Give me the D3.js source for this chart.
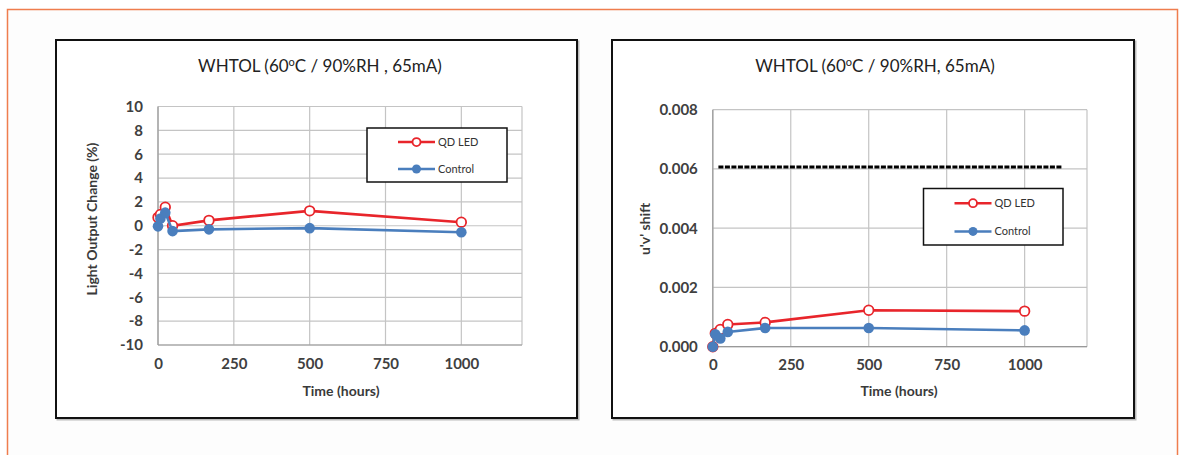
<!DOCTYPE html>
<html><head><meta charset="utf-8">
<script src="https://cdn.jsdelivr.net/npm/d3@7"></script>
<style>
html,body{margin:0;padding:0;background:#fff;}
svg{display:block;}
text{font-family:Lato,"Open Sans",sans-serif;}
</style></head>
<body>
<svg id="c" width="1184" height="455"></svg>
<script>
// ---- data ----
const hours = [0, 8, 24, 48, 168, 500, 1000];
const lightQD = [0.7, 0.95, 1.55, 0.0, 0.45, 1.25, 0.3];
const lightControl = [-0.05, 0.6, 1.1, -0.45, -0.3, -0.2, -0.55];
const shiftQD = [0, 0.00045, 0.00058, 0.00075, 0.00082, 0.00123, 0.0012];
const shiftControl = [0, 0.00042, 0.00028, 0.0005, 0.00063, 0.00063, 0.00055];
const xTicks = [0, 250, 500, 750, 1000];
const lightTicks = [-10, -8, -6, -4, -2, 0, 2, 4, 6, 8, 10];
const shiftTicks = [0, 0.002, 0.004, 0.006, 0.008];
const limitValue = [0.00607];
const limitHours = [18, 1120];
const seriesNames = ["QD LED", "Control"];

const RED = "#e8252b", BLUE = "#4a7ebd", GRID = "#c4c4c4";
const svg = d3.select("#c");

// outer frame
svg.append("rect").attr("x",7.5).attr("y",9.5).attr("width",1170).attr("height",470)
  .attr("fill","#fdfdfd").attr("stroke","#ef7d4e").attr("stroke-width",1.5);

function panel(o){
  const g = svg.append("g");
  g.append("rect").attr("x",o.box[0]+1.5).attr("y",o.box[1]+1.5).attr("width",o.box[2]).attr("height",o.box[3])
    .attr("fill","none").attr("stroke","#bbb").attr("stroke-width",2);
  g.append("rect").attr("x",o.box[0]).attr("y",o.box[1]).attr("width",o.box[2]).attr("height",o.box[3])
    .attr("fill","#fff").attr("stroke","#111").attr("stroke-width",2);

  const x = d3.scaleLinear().domain([0,1200]).range([o.left,o.right]);
  const y = d3.scaleLinear().domain(o.ydom).range([o.bottom,o.top]);

  g.append("g").selectAll("line").data(o.yticks).join("line")
    .attr("x1",o.left).attr("x2",o.right).attr("y1",d=>y(d)).attr("y2",d=>y(d))
    .attr("stroke",GRID).attr("stroke-width",1.2);
  g.append("g").selectAll("line").data(xTicks.concat([1200])).join("line")
    .attr("x1",d=>x(d)).attr("x2",d=>x(d)).attr("y1",o.top).attr("y2",o.bottom)
    .attr("stroke",GRID).attr("stroke-width",1.2);
  g.append("line").attr("x1",o.left).attr("x2",o.left).attr("y1",o.top).attr("y2",o.bottom).attr("stroke","#999").attr("stroke-width",1.2);
  g.append("line").attr("x1",o.left).attr("x2",o.right).attr("y1",o.bottom).attr("y2",o.bottom).attr("stroke","#999").attr("stroke-width",1.2);

  const ya = g.append("g").attr("transform",`translate(${o.left},0)`)
    .call(d3.axisLeft(y).tickValues(o.yticks).tickFormat(o.yfmt).tickSize(0).tickPadding(o.ypad));
  const xa = g.append("g").attr("transform",`translate(0,${o.bottom})`)
    .call(d3.axisBottom(x).tickValues(xTicks).tickFormat(d=>String(d)).tickSize(0).tickPadding(13));
  [ya,xa].forEach(a=>{
    a.select(".domain").remove();
    a.selectAll("text").attr("font-family","Lato,'Open Sans',sans-serif").attr("font-size",15)
      .attr("font-weight","bold").attr("fill","#404040");
  });

  const t = g.append("text").attr("x",o.titleX).attr("y",72).attr("text-anchor","middle")
    .attr("font-size",17).attr("fill","#222");
  t.append("tspan").text("WHTOL (60");
  t.append("tspan").text("o").attr("font-size",11).attr("dy",-6);
  t.append("tspan").text(o.titleRest).attr("dy",6);

  g.append("text").attr("x",o.xTitleX).attr("y",396).attr("text-anchor","middle")
    .attr("font-size",14).attr("font-weight","bold").attr("fill","#3a3a3a").text("Time (hours)");
  g.append("text").attr("transform",`translate(${o.yTitleX},${o.yTitleY}) rotate(-90)`).attr("text-anchor","middle")
    .attr("font-size",14).attr("font-weight","bold").attr("fill","#3a3a3a").text(o.yTitle);

  if (o.limit){
    g.append("line").attr("x1",x(limitHours[0])).attr("x2",x(limitHours[1]))
      .attr("y1",y(limitValue[0])).attr("y2",y(limitValue[0]))
      .attr("stroke","#000").attr("stroke-width",3).attr("stroke-dasharray","5,1.5");
  }

  const line = d3.line().x((d,i)=>x(hours[i])).y(d=>y(d));
  // QD series first
  g.append("path").datum(o.qd).attr("d",line).attr("fill","none").attr("stroke",RED).attr("stroke-width",2.6);
  g.append("g").selectAll("circle").data(o.qd).join("circle")
    .attr("cx",(d,i)=>x(hours[i])).attr("cy",d=>y(d)).attr("r",4.8).attr("fill","#fff")
    .attr("stroke",RED).attr("stroke-width",1.8);
  // control series on top
  g.append("path").datum(o.ctrl).attr("d",line).attr("fill","none").attr("stroke",BLUE).attr("stroke-width",2.6);
  g.append("g").selectAll("circle").data(o.ctrl).join("circle")
    .attr("cx",(d,i)=>x(hours[i])).attr("cy",d=>y(d)).attr("r",5.3).attr("fill",BLUE);

  const L = o.legend;
  g.append("rect").attr("x",L[0]).attr("y",L[1]).attr("width",L[2]).attr("height",L[3])
    .attr("fill","#fff").attr("stroke","#111").attr("stroke-width",1.5);
  const rows = [{n:seriesNames[0],c:RED,open:true,y:L[1]+L[3]*0.26},{n:seriesNames[1],c:BLUE,open:false,y:L[1]+L[3]*0.76}];
  rows.forEach(r=>{
    g.append("line").attr("x1",L[0]+31).attr("x2",L[0]+68).attr("y1",r.y).attr("y2",r.y).attr("stroke",r.c).attr("stroke-width",2.6);
    g.append("circle").attr("cx",L[0]+49.5).attr("cy",r.y).attr("r",r.open?4:4.5)
      .attr("fill",r.open?"#fff":r.c).attr("stroke",r.open?r.c:"none").attr("stroke-width",1.8);
    g.append("text").attr("x",L[0]+71).attr("y",r.y+4).attr("font-size",11).attr("fill","#333").text(r.n);
  });
}

panel({box:[56,40,521,378], left:158, right:522, top:106.5, bottom:345, ydom:[-10,10],
  yticks:lightTicks, yfmt:d=>String(d), ypad:15, titleX:320, titleRest:"C / 90%RH , 65mA)",
  xTitleX:341, yTitleX:97, yTitleY:219, yTitle:"Light Output Change (%)",
  qd:lightQD, ctrl:lightControl, legend:[367,128,140,54], limit:false});

panel({box:[612,40,522,378], left:712.8, right:1087, top:109.7, bottom:346.7, ydom:[0,0.008],
  yticks:shiftTicks, yfmt:d=>d.toFixed(3), ypad:15, titleX:875, titleRest:"C / 90%RH, 65mA)",
  xTitleX:899, yTitleX:650, yTitleY:229, yTitle:"u'v' shift",
  qd:shiftQD, ctrl:shiftControl, legend:[923.5,188.5,139.5,56.5], limit:true});
</script>
</body></html>
